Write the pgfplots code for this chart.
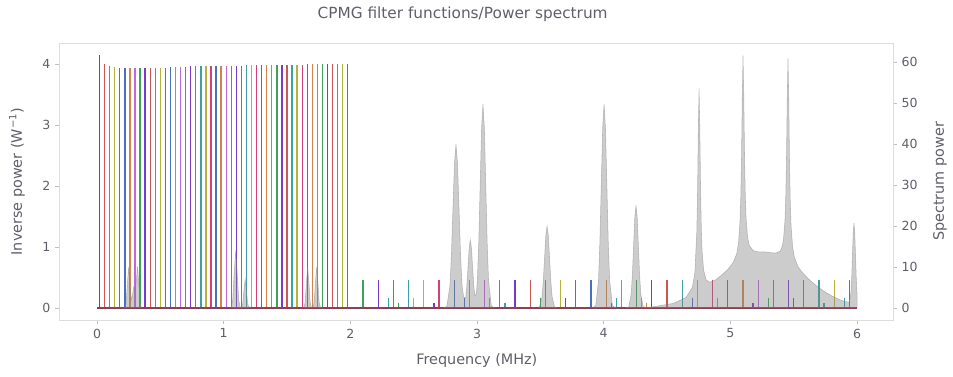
\documentclass[border=0pt]{standalone}
\usepackage{pgfplots}
\pgfplotsset{compat=1.18}
\usepackage{fontspec}
\setmainfont{DejaVu Sans}
\definecolor{txt}{RGB}{95,95,105}
\definecolor{spine}{RGB}{221,221,221}
\definecolor{tickc}{RGB}{190,190,190}
\definecolor{c0}{RGB}{122,58,200}
\definecolor{c1}{RGB}{205,85,85}
\definecolor{c2}{RGB}{60,160,165}
\definecolor{c3}{RGB}{180,180,60}
\definecolor{c4}{RGB}{212,62,122}
\definecolor{c5}{RGB}{72,112,192}
\definecolor{c6}{RGB}{212,130,70}
\definecolor{c7}{RGB}{192,102,222}
\definecolor{c8}{RGB}{62,162,92}
\definecolor{basec}{RGB}{140,52,72}
\begin{document}
\begin{tikzpicture}
\pgfplotsset{
  base/.style={
    scale only axis, width=625.5pt, height=207.75pt, at={(0,0)}, anchor=south west,
    xmin=-0.3, xmax=6.284,
    axis line style={spine},
    tick style={tickc, line width=0.6pt},
    tick align=outside, major tick length=3pt,
    ticklabel style={font=\fontsize{9.4}{11}\selectfont, text=txt},
    /pgf/number format/assume math mode=true,
    label style={font=\fontsize{10.8}{13}\selectfont, text=txt},
  },
  sp/.style={ycomb, no marks, line width=1.0pt},
}
\begin{axis}[base,
  ymin=-0.197, ymax=4.344,
  xtick={0,1,2,3,4,5,6}, ytick={0,1,2,3,4},
  xtick pos=lower, ytick pos=left,
  xlabel={Frequency (MHz)},
  xlabel style={at={(axis description cs:0.501,-0.148)}, anchor=center},
  ylabel={Inverse power (W\textsuperscript{−1})},
  ylabel style={at={(axis description cs:-0.0504,0.5)}, anchor=center},
  every axis title shift=0pt,
  title={CPMG filter functions/Power spectrum},
  title style={at={(axis description cs:0.484,1.105)}, anchor=center, font=\fontsize{11.5}{14}\selectfont, text=txt},
]
\addplot[sp,c0] coordinates {(0.02,4.14)(0.06,0.475)(0.10,0.174)(0.14,0.087)(0.18,0.052)};
\addplot[sp,c1] coordinates {(0.06,4.00)(0.18,0.455)(0.30,0.166)(0.42,0.083)(0.54,0.05)};
\addplot[sp,c2] coordinates {(0.10,3.97)(0.30,0.455)(0.50,0.166)(0.70,0.083)(0.90,0.05)};
\addplot[sp,c3] coordinates {(0.14,3.95)(0.42,0.455)(0.70,0.166)(0.98,0.083)(1.26,0.05)};
\addplot[sp,c4] coordinates {(0.18,3.94)(0.54,0.455)(0.90,0.166)(1.26,0.083)(1.62,0.05)};
\addplot[sp,c5] coordinates {(0.22,3.94)(0.66,0.455)(1.10,0.166)(1.54,0.083)(1.98,0.05)};
\addplot[sp,c6] coordinates {(0.26,3.93)(0.78,0.455)(1.30,0.166)(1.82,0.083)(2.34,0.05)};
\addplot[sp,c7] coordinates {(0.30,3.93)(0.90,0.455)(1.50,0.166)(2.10,0.083)(2.70,0.05)};
\addplot[sp,c8] coordinates {(0.34,3.93)(1.02,0.455)(1.70,0.166)(2.38,0.083)(3.06,0.05)};
\addplot[sp,c0] coordinates {(0.38,3.93)(1.14,0.455)(1.90,0.166)(2.66,0.083)(3.42,0.05)};
\addplot[sp,c1] coordinates {(0.42,3.93)(1.26,0.455)(2.10,0.166)(2.94,0.083)(3.78,0.05)};
\addplot[sp,c2] coordinates {(0.46,3.935)(1.38,0.455)(2.30,0.166)(3.22,0.083)(4.14,0.05)};
\addplot[sp,c3] coordinates {(0.50,3.94)(1.50,0.455)(2.50,0.166)(3.50,0.083)(4.50,0.05)};
\addplot[sp,c4] coordinates {(0.54,3.94)(1.62,0.455)(2.70,0.166)(3.78,0.083)(4.86,0.05)};
\addplot[sp,c5] coordinates {(0.58,3.945)(1.74,0.455)(2.90,0.166)(4.06,0.083)(5.22,0.05)};
\addplot[sp,c6] coordinates {(0.62,3.95)(1.86,0.455)(3.10,0.166)(4.34,0.083)(5.58,0.05)};
\addplot[sp,c7] coordinates {(0.66,3.95)(1.98,0.455)(3.30,0.166)(4.62,0.083)(5.94,0.05)};
\addplot[sp,c8] coordinates {(0.70,3.955)(2.10,0.455)(3.50,0.166)(4.90,0.083)};
\addplot[sp,c0] coordinates {(0.74,3.96)(2.22,0.455)(3.70,0.166)(5.18,0.083)};
\addplot[sp,c1] coordinates {(0.78,3.96)(2.34,0.455)(3.90,0.166)(5.46,0.083)};
\addplot[sp,c2] coordinates {(0.82,3.96)(2.46,0.455)(4.10,0.166)(5.74,0.083)};
\addplot[sp,c3] coordinates {(0.86,3.96)(2.58,0.455)(4.30,0.166)};
\addplot[sp,c4] coordinates {(0.90,3.965)(2.70,0.455)(4.50,0.166)};
\addplot[sp,c5] coordinates {(0.94,3.965)(2.82,0.455)(4.70,0.166)};
\addplot[sp,c6] coordinates {(0.98,3.97)(2.94,0.455)(4.90,0.166)};
\addplot[sp,c7] coordinates {(1.02,3.97)(3.06,0.455)(5.10,0.166)};
\addplot[sp,c8] coordinates {(1.06,3.97)(3.18,0.455)(5.30,0.166)};
\addplot[sp,c0] coordinates {(1.10,3.975)(3.30,0.455)(5.50,0.166)};
\addplot[sp,c1] coordinates {(1.14,3.975)(3.42,0.455)(5.70,0.166)};
\addplot[sp,c2] coordinates {(1.18,3.98)(3.54,0.455)(5.90,0.166)};
\addplot[sp,c3] coordinates {(1.22,3.98)(3.66,0.455)};
\addplot[sp,c4] coordinates {(1.26,3.98)(3.78,0.455)};
\addplot[sp,c5] coordinates {(1.30,3.98)(3.90,0.455)};
\addplot[sp,c6] coordinates {(1.34,3.985)(4.02,0.455)};
\addplot[sp,c7] coordinates {(1.38,3.985)(4.14,0.455)};
\addplot[sp,c8] coordinates {(1.42,3.985)(4.26,0.455)};
\addplot[sp,c0] coordinates {(1.46,3.99)(4.38,0.455)};
\addplot[sp,c1] coordinates {(1.50,3.99)(4.50,0.455)};
\addplot[sp,c2] coordinates {(1.54,3.99)(4.62,0.455)};
\addplot[sp,c3] coordinates {(1.58,3.99)(4.74,0.455)};
\addplot[sp,c4] coordinates {(1.62,3.99)(4.86,0.455)};
\addplot[sp,c5] coordinates {(1.66,3.995)(4.98,0.455)};
\addplot[sp,c6] coordinates {(1.70,3.995)(5.10,0.455)};
\addplot[sp,c7] coordinates {(1.74,3.995)(5.22,0.455)};
\addplot[sp,c8] coordinates {(1.78,4.0)(5.34,0.455)};
\addplot[sp,c0] coordinates {(1.82,4.0)(5.46,0.455)};
\addplot[sp,c1] coordinates {(1.86,4.0)(5.58,0.455)};
\addplot[sp,c2] coordinates {(1.90,4.0)(5.70,0.455)};
\addplot[sp,c3] coordinates {(1.94,4.0)(5.82,0.455)};
\addplot[sp,c4] coordinates {(1.98,4.0)(5.94,0.455)};
\addplot[basec, line width=1pt, no marks] coordinates {(0,0)(6,0)};
\node[anchor=south west, inner sep=0pt, font=\fontsize{9.4}{11}\selectfont, text=txt] at (axis description cs:0,1.01) {1e−9};
\end{axis}
\begin{axis}[base,
  ymin=-2.93, ymax=64.63,
  hide x axis, axis y line*=right,
  ytick={0,10,20,30,40,50,60},
  ylabel={Spectrum power},
  ylabel style={at={(axis description cs:1.0564,0.5)}, anchor=center},
]
\addplot[fill=gray, fill opacity=0.4, draw=gray, draw opacity=0.5, line width=0.4pt] coordinates {
(0,0)(0.22,0)(0.23,1.35)(0.24,6.07)(0.25,10)(0.26,6.07)(0.27,2.03)(0.28,3.14)(0.29,5.11)(0.30,4.38)(0.31,6.75)(0.32,10.06)(0.33,6.07)(0.34,1.35)(0.35,0.11)(0.36,0)
(1.05,0)(1.059,0.16)(1.071,1.9)(1.083,8.5)(1.095,14)(1.107,8.5)(1.119,1.9)(1.131,0.16)(1.14,0.08)(1.15,0.95)(1.16,4.25)(1.17,7)(1.18,4.25)(1.19,0.95)(1.20,0.08)(1.21,0)
(1.62,0)(1.633,0.11)(1.643,1.35)(1.653,6.07)(1.663,10)(1.673,6.07)(1.683,1.35)(1.693,0.11)(1.704,0.11)(1.714,1.35)(1.724,6.07)(1.734,10)(1.744,6.07)(1.754,1.35)(1.764,0.11)(1.78,0)
(2.74,0)(2.762,0.44)(2.786,5.41)(2.798,12.99)(2.810,24.26)(2.822,35.3)(2.834,40)(2.846,35.3)(2.858,24.26)(2.870,12.99)(2.882,5.41)(2.895,2.6)
(2.911,2.5)(2.920,5.47)(2.929,10.07)(2.938,14.65)(2.947,16.6)(2.956,14.65)(2.965,10.1)(2.974,5.6)(2.983,3.0)(2.995,3.5)(3.003,6.87)(3.014,16.17)(3.025,30.2)(3.036,43.95)(3.047,49.8)(3.058,43.95)(3.069,30.2)(3.080,16.17)(3.091,6.74)(3.113,0.55)(3.14,0)
(3.49,0)(3.513,2.71)(3.523,6.49)(3.533,12.13)(3.543,17.65)(3.553,20)(3.563,17.65)(3.573,12.13)(3.583,6.49)(3.593,2.71)(3.613,0.22)(3.64,0)
(3.91,0)(3.937,0.55)(3.959,6.74)(3.970,16.17)(3.981,30.2)(3.992,43.95)(4.003,49.8)(4.014,43.95)(4.025,30.2)(4.036,16.17)(4.047,6.74)(4.069,0.55)(4.10,0)
(4.17,0)(4.198,0.28)(4.217,3.38)(4.2265,8.12)(4.236,15.16)(4.2455,22.06)(4.255,25)(4.2645,22.06)(4.274,15.16)(4.2835,8.12)(4.293,3.38)(4.312,0.28)(4.34,0.1)
(4.40,0.34)(4.55,1.13)(4.65,2.57)(4.70,5.0)(4.72,8.7)(4.735,18.5)(4.741,28.3)(4.747,43.4)(4.753,53.5)(4.759,43.6)(4.765,28.7)(4.771,19.2)(4.777,13.9)(4.789,9.2)(4.81,6.8)(4.84,6.3)(4.88,6.8)(4.93,8.0)(4.98,9.4)(5.02,11.0)(5.05,13.2)(5.064,15.8)(5.076,21.1)(5.082,26.6)(5.088,36.3)(5.094,51.4)(5.10,61.6)(5.106,51.7)(5.112,36.8)(5.118,27.3)(5.124,22.0)(5.136,17.2)(5.15,15.2)(5.18,14.0)(5.22,13.7)(5.26,13.7)(5.30,13.6)(5.34,13.4)(5.37,13.5)(5.395,13.9)(5.41,15.1)(5.419,16.6)(5.431,21.3)(5.437,26.6)(5.443,36.1)(5.449,51.0)(5.455,60.8)(5.461,50.7)(5.467,35.6)(5.473,25.85)(5.479,20.3)(5.491,15.0)(5.505,12.4)(5.535,10.0)(5.575,8.4)(5.62,7.0)(5.68,5.4)(5.74,4.07)(5.80,2.96)(5.85,2.2)(5.90,1.6)(5.94,1.41)(5.952,3.8)(5.958,7.5)(5.964,13.1)(5.97,18.5)(5.976,20.7)(5.982,18.4)(5.988,12.9)(5.994,7.3)(6.0,3.5)(6.0,0)
} \closedcycle;
\end{axis}
\pgfresetboundingbox
\path[use as bounding box] (-44.25pt,-42pt) rectangle (670.5pt,240pt);
\end{tikzpicture}
\end{document}
